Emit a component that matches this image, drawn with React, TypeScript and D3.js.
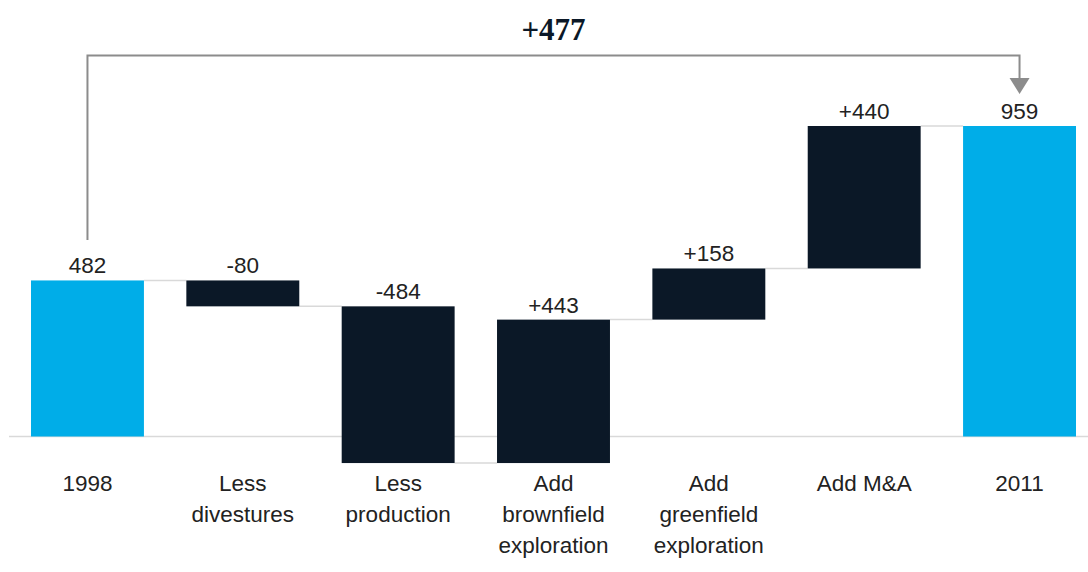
import React, { useEffect, useRef } from 'react'
import * as d3 from 'd3'

const categories = ['1998', 'Less divestures', 'Less production', 'Add brownfield exploration', 'Add greenfield exploration', 'Add M&A', '2011']
const labelLines = [['1998'], ['Less', 'divestures'], ['Less', 'production'], ['Add', 'brownfield', 'exploration'], ['Add', 'greenfield', 'exploration'], ['Add M&A'], ['2011']]
const changes = [482, -80, -484, 443, 158, 440, 959]
const isTotal = [true, false, false, false, false, false, true]
const valueLabels = ['482', '-80', '-484', '+443', '+158', '+440', '959']
const totalChange = '+477'

const W = 1088
const H = 572

export default function App() {
  const ref = useRef<SVGSVGElement>(null)

  useEffect(() => {
    const svg = d3.select(ref.current)
    svg.selectAll('*').remove()

    // waterfall start / end for each bar
    let run = 0
    const bars = categories.map((c, i) => {
      let start, end
      if (isTotal[i]) { start = 0; end = changes[i]; run = changes[i] }
      else { start = run; end = run + changes[i]; run = end }
      return { c, i, start, end }
    })

    const x = d3.scaleBand().domain(categories).range([31, 1076]).paddingInner(0.273).paddingOuter(0)
    const y = d3.scaleLinear().domain([0, 959]).range([436.5, 126])
    const font = '"Liberation Sans", Arial, sans-serif'

    // baseline
    svg.append('line')
      .attr('x1', 9).attr('x2', W).attr('y1', y(0)).attr('y2', y(0))
      .attr('stroke', '#d9d9d9').attr('stroke-width', 1.5)

    // connectors
    bars.slice(0, -1).forEach((b, i) => {
      const nx = x(categories[i + 1])!
      svg.append('line')
        .attr('x1', x(b.c)! + x.bandwidth()).attr('x2', nx)
        .attr('y1', y(b.end)).attr('y2', y(b.end))
        .attr('stroke', '#d9d9d9').attr('stroke-width', 1.5)
    })

    svg.selectAll('.bar')
      .data(bars)
      .enter()
      .append('rect')
      .attr('x', d => x(d.c)!)
      .attr('y', d => y(Math.max(d.start, d.end)))
      .attr('width', x.bandwidth())
      .attr('height', d => Math.abs(y(d.start) - y(d.end)))
      .attr('fill', d => isTotal[d.i] ? '#00ADE8' : '#0B1827')

    svg.selectAll('.vlabel')
      .data(bars)
      .enter()
      .append('text')
      .attr('x', d => x(d.c)! + x.bandwidth() / 2)
      .attr('y', d => y(Math.max(d.start, d.end)) - 7)
      .attr('text-anchor', 'middle')
      .style('font-family', font)
      .style('font-size', '22.5px')
      .attr('fill', '#222')
      .text(d => valueLabels[d.i])

    const cl = svg.selectAll('.clabel')
      .data(bars)
      .enter()
      .append('text')
      .attr('text-anchor', 'middle')
      .style('font-family', font)
      .style('font-size', '22.5px')
      .attr('fill', '#222')
    cl.each(function (d) {
      const t = d3.select(this)
      labelLines[d.i].forEach((ln, k) => {
        t.append('tspan')
          .attr('x', x(d.c)! + x.bandwidth() / 2)
          .attr('y', 491 + k * 31)
          .text(ln)
      })
    })

    // bracket
    const x0 = x(categories[0])! + x.bandwidth() / 2
    const x1 = x(categories[6])! + x.bandwidth() / 2
    svg.append('path')
      .attr('d', `M${x0},240 V55.5 H${x1} V80`)
      .attr('fill', 'none').attr('stroke', '#8c8c8c').attr('stroke-width', 2)
    svg.append('path')
      .attr('d', `M${x1 - 10},78 L${x1 + 10},78 L${x1},94 Z`)
      .attr('fill', '#8c8c8c')

    svg.append('text')
      .attr('x', (x0 + x1) / 2).attr('y', 40)
      .attr('text-anchor', 'middle')
      .style('font-family', '"Liberation Serif", "DejaVu Serif", serif')
      .style('font-weight', 'bold')
      .style('font-size', '31px')
      .attr('fill', '#0B1827')
      .text(totalChange)
  }, [])

  return <svg ref={ref} width={W} height={H} style={{ position: 'absolute', left: 0, top: 0 }} />
}
